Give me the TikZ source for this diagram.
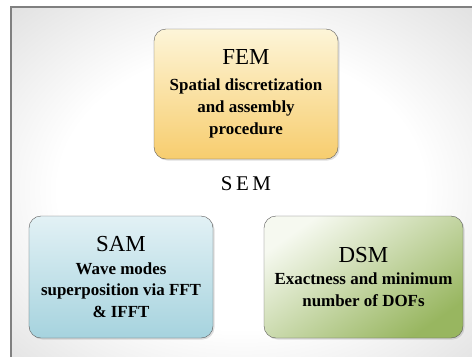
\documentclass[tikz,border=0pt]{standalone}
\usepackage{fontspec}
\setmainfont{Liberation Serif}
\usetikzlibrary{positioning,shadows}
\pgfdeclareradialshading{semglow}{\pgfpoint{0bp}{0bp}}{color(0bp)=(white); color(14bp)=(white); color(35bp)=(gray!42); color(50bp)=(gray!70)}
\definecolor{femtop}{HTML}{FDF5D8}
\definecolor{fembot}{HTML}{F7CD6E}
\definecolor{samtop}{HTML}{E2F1F5}
\definecolor{sambot}{HTML}{A6D3DE}
\definecolor{dsmtop}{HTML}{F6F9F0}
\definecolor{dsmbot}{HTML}{98B660}

\begin{document}
\begin{tikzpicture}[x=1bp,y=-1bp,
                methodbox/.style={rounded corners=12bp, draw=black!65, thin, align=center,
                    minimum height=122bp, inner sep=4bp,
                    drop shadow={opacity=0.25, shadow xshift=1.5bp, shadow yshift=-1.5bp},
                    font=\fontsize{17}{22}\selectfont\bfseries},
                femnode/.style={methodbox, minimum width=184bp, minimum height=130bp, top color=femtop, bottom color=fembot},
                samnode/.style={methodbox, minimum width=184bp, top color=samtop, bottom color=sambot},
                dsmnode/.style={methodbox, minimum width=199bp, top color=dsmtop, bottom color=dsmbot, shading angle=35},
            ]
            \useasboundingbox (0,0) rectangle (472,356);
            %Background
            \begin{scope}
            \clip (11,7) rectangle (472,356);
            \shade[shading=semglow] (-86,-58) rectangle (568,438);
            \end{scope}
            \draw[black!50, line width=1.1bp] (11,360) |- (476,7);

            %Nodes
            \node[femnode]   (fem)  at (246,94)  {{\mdseries\fontsize{23}{27}\selectfont FEM}\\[4bp]Spatial discretization\\and assembly\\procedure};
            \node[font=\fontsize{21}{25}\selectfont] (sem) at (246,184) {S\hspace{3.5bp}E\hspace{3.5bp}M};
            \node[samnode]   (sam)  at (121,277) {{\mdseries\fontsize{23}{27}\selectfont SAM}\\[1bp]Wave modes\\superposition via FFT\\\& IFFT};
            \node[dsmnode]   (dsm)  at (363.5,277) {{\mdseries\fontsize{23}{27}\selectfont DSM}\\[1bp]Exactness and minimum\\number of DOFs};
        \end{tikzpicture}
\end{document}
